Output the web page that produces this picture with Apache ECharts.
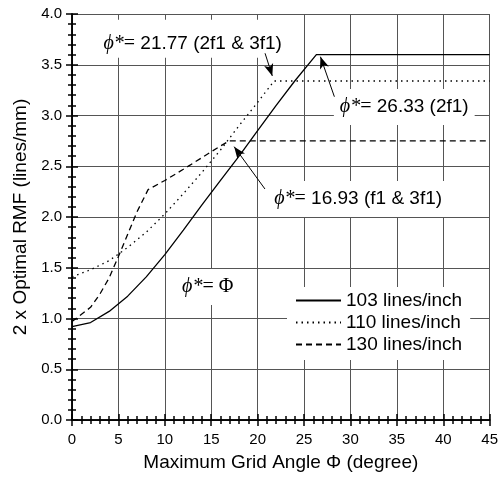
<!DOCTYPE html>
<html>
<head>
<meta charset="utf-8">
<script src="https://cdn.jsdelivr.net/npm/echarts@6/dist/echarts.min.js"></script>
<style>
html,body{margin:0;padding:0;background:#fff;}
#chart{width:501px;height:482px;}
</style>
</head>
<body>
<div id="chart"></div>
<script>
// ---- data ----
var seriesNames = ['103 lines/inch', '110 lines/inch', '130 lines/inch'];
var phi103 = [0, 2, 4, 6, 8, 10, 12, 14, 16, 18, 20, 22, 24, 26.33, 45];
var rmf103 = [0.92, 0.96, 1.07, 1.22, 1.41, 1.63, 1.87, 2.12, 2.36, 2.60, 2.85, 3.10, 3.34, 3.60, 3.60];
var phi110 = [0, 2, 4, 6, 8, 10, 12, 14, 16, 18, 20, 21.77, 45];
var rmf110 = [1.41, 1.48, 1.57, 1.70, 1.85, 2.03, 2.23, 2.44, 2.66, 2.90, 3.13, 3.34, 3.34];
var phi130 = [0, 2, 3, 4, 5, 6, 7, 8.2, 10, 12, 14, 16, 16.93, 45];
var rmf130 = [0.97, 1.11, 1.24, 1.40, 1.61, 1.83, 2.05, 2.27, 2.36, 2.47, 2.585, 2.70, 2.75, 2.75];
var xTicks = [0, 5, 10, 15, 20, 25, 30, 35, 40, 45];
var yTicks = [0.0, 0.5, 1.0, 1.5, 2.0, 2.5, 3.0, 3.5, 4.0];

// annotations (text anchored in data coordinates, arrow from text to the marked point)
var annotTexts = ['21.77 (2f1 & 3f1)', '26.33 (2f1)', '16.93 (f1 & 3f1)', null];
var annotX = [13.0, 35.8, 30.83, 14.62];
var annotY = [3.757, 3.084, 2.177, 1.31];
var arrowFrom = [[20.8, 3.613], [28.27, 3.185], [20.79, 2.276]];
var arrowTo = [[21.58, 3.39], [26.77, 3.579], [17.47, 2.693]];

function zip(a, b) { return a.map(function (v, i) { return [v, b[i]]; }); }

var SANS = '"Liberation Sans", Arial, sans-serif';
var SERIF = '"Liberation Serif", "Times New Roman", serif';

var arrowData = arrowFrom.map(function (f, i) {
  return [{ coord: f }, { coord: arrowTo[i] }];
});

var axisCommonLine = { show: true, lineStyle: { color: '#000', width: 1.5 } };
var tickStyle = { color: '#000', width: 1.5 };

var option = {
  animation: false,
  backgroundColor: '#fff',
  grid: { left: 72, right: 10, top: 14, bottom: 62, containLabel: false },
  legend: {
    data: seriesNames,
    orient: 'vertical',
    left: 287, top: 287,
    itemWidth: 45, itemHeight: 14, itemGap: 3,
    padding: [4, 8, 6, 8],
    backgroundColor: '#fff',
    itemStyle: { color: 'rgba(0,0,0,0)', borderWidth: 0, opacity: 0 },
    textStyle: { fontFamily: SANS, fontSize: 19, color: '#000' },
    selectedMode: false
  },
  xAxis: [
    {
      type: 'value', min: 0, max: 45, interval: 5, position: 'bottom',
      axisLine: axisCommonLine,
      axisTick: { show: true, inside: false, length: 6, lineStyle: tickStyle },
      axisLabel: { show: true, margin: 12, fontFamily: SANS, fontSize: 15, color: '#000' },
      splitLine: { show: true, lineStyle: { color: '#555', width: 1 } },
      name: 'Maximum Grid Angle \u03a6 (degree)',
      nameLocation: 'middle', nameGap: 33,
      nameTextStyle: { fontFamily: SANS, fontSize: 19, color: '#000' }
    },
    {
      type: 'value', min: 0, max: 45, interval: 5, position: 'bottom',
      axisLine: { show: false },
      axisTick: { show: true, inside: true, length: 6, lineStyle: tickStyle },
      minorTick: { show: true, splitNumber: 5, length: 4, lineStyle: tickStyle },
      axisLabel: { show: false }, splitLine: { show: false }
    },
    {
      type: 'value', min: 0, max: 45, interval: 5, position: 'top',
      axisLine: axisCommonLine,
      axisTick: { show: true, inside: true, length: 6, lineStyle: tickStyle },
      minorTick: { show: true, splitNumber: 5, length: 4, lineStyle: tickStyle },
      axisLabel: { show: false }, splitLine: { show: false }
    }
  ],
  yAxis: [
    {
      type: 'value', min: 0, max: 4, interval: 0.5, position: 'left',
      axisLine: axisCommonLine,
      axisTick: { show: true, inside: false, length: 6, lineStyle: tickStyle },
      axisLabel: { show: true, margin: 10, fontFamily: SANS, fontSize: 15, color: '#000',
        formatter: function (v) { return v.toFixed(1); } },
      splitLine: { show: true, lineStyle: { color: '#555', width: 1 } },
      name: '2 x Optimal RMF (lines/mm)',
      nameLocation: 'middle', nameGap: 40,
      nameTextStyle: { fontFamily: SANS, fontSize: 19, color: '#000' }
    },
    {
      type: 'value', min: 0, max: 4, interval: 0.5, position: 'left',
      axisLine: { show: false },
      axisTick: { show: true, inside: true, length: 6, lineStyle: tickStyle },
      minorTick: { show: true, splitNumber: 5, length: 4, lineStyle: tickStyle },
      axisLabel: { show: false }, splitLine: { show: false }
    },
    {
      type: 'value', min: 0, max: 4, interval: 0.5, position: 'right',
      axisLine: axisCommonLine,
      axisTick: { show: true, inside: true, length: 6, lineStyle: tickStyle },
      minorTick: { show: true, splitNumber: 5, length: 4, lineStyle: tickStyle },
      axisLabel: { show: false }, splitLine: { show: false }
    }
  ],
  series: [
    {
      name: seriesNames[0], type: 'line', data: zip(phi103, rmf103), symbol: 'none',
      lineStyle: { color: '#000', width: 1.3, type: 'solid' }, itemStyle: { color: '#000' }, z: 4,
      markLine: {
        silent: true, animation: false,
        symbol: ['none', 'arrow'], symbolSize: [7, 12],
        lineStyle: { color: '#000', width: 1, type: 'solid' },
        itemStyle: { color: '#000' },
        label: { show: false },
        emphasis: { disabled: true },
        data: arrowData
      }
    },
    {
      name: seriesNames[1], type: 'line', data: zip(phi110, rmf110), symbol: 'none',
      lineStyle: { color: '#000', width: 1.3, type: [1.5, 4] }, itemStyle: { color: '#000' }, z: 4
    },
    {
      name: seriesNames[2], type: 'line', data: zip(phi130, rmf130), symbol: 'none',
      lineStyle: { color: '#000', width: 1.3, type: [6, 4] }, itemStyle: { color: '#000' }, z: 4
    }
  ]
};

var chart = echarts.init(document.getElementById('chart'), null, { renderer: 'canvas' });
chart.setOption(option);

// annotation texts, placed from data coordinates
var richStyles = {
  p: { fontFamily: SERIF, fontStyle: 'italic', fontSize: 20, fill: '#000' },
  q: { fontFamily: SERIF, fontSize: 20, fill: '#000' },
  n: { fontFamily: SANS, fontSize: 19, fill: '#000' }
};
var graphics = annotX.map(function (x, i) {
  var pt = chart.convertToPixel({ xAxisIndex: 0, yAxisIndex: 0 }, [x, annotY[i]]);
  var txt = annotTexts[i] === null ? '{p|\u03d5*}{q|= \u03a6}' : '{p|\u03d5*}{q|=} {n|' + annotTexts[i] + '}';
  return {
    type: 'text', x: pt[0], y: pt[1], z: 3, silent: true,
    style: {
      text: txt, rich: richStyles,
      align: 'center', verticalAlign: 'middle',
      fill: '#000', fontFamily: SANS, fontSize: 19,
      backgroundColor: '#fff',
      padding: i === 0 ? [14, 4, 4, 4] : [8, 6, 8, 6]
    }
  };
});
chart.setOption({ graphic: graphics });
</script>
</body>
</html>
